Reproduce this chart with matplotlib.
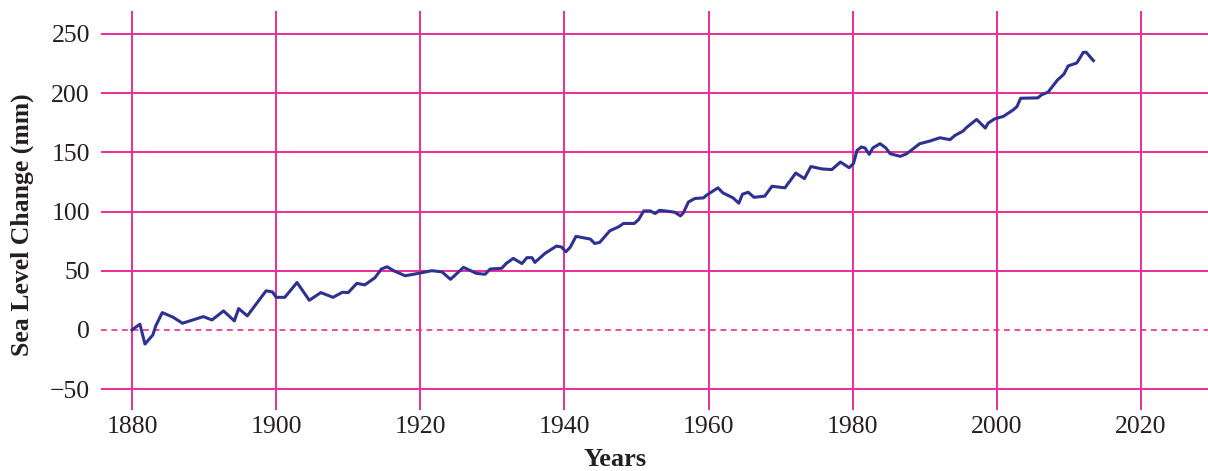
import matplotlib
matplotlib.use("Agg")
import matplotlib.pyplot as plt

years = [1880.0, 1881.1, 1881.8, 1882.9, 1883.3, 1884.2, 1885.7, 1887.0, 1889.9, 1891.1,
         1892.7, 1894.2, 1894.8, 1896.0, 1898.6, 1899.5, 1900.0, 1901.2, 1902.9, 1904.6,
         1906.2, 1907.9, 1909.2, 1910.0, 1911.2, 1912.3, 1913.7, 1914.6, 1915.4, 1916.3,
         1917.9, 1919.7, 1921.6, 1923.0, 1924.2, 1926.0, 1927.8, 1929.0, 1929.7, 1931.3,
         1931.9, 1932.9, 1934.1, 1934.8, 1935.5, 1935.9, 1937.3, 1938.9, 1939.6, 1940.2,
         1940.8, 1941.6, 1943.6, 1944.2, 1944.9, 1946.3, 1947.5, 1948.2, 1949.7, 1950.3,
         1951.0, 1951.9, 1952.6, 1953.2, 1954.0, 1955.3, 1956.1, 1956.5, 1957.2, 1958.1,
         1959.3, 1959.7, 1961.3, 1962.0, 1963.4, 1964.2, 1964.7, 1965.5, 1966.3, 1967.8,
         1968.8, 1970.6, 1972.1, 1973.3, 1974.2, 1975.7, 1977.1, 1978.3, 1979.5, 1980.1,
         1980.6, 1981.2, 1981.7, 1982.3, 1982.8, 1983.8, 1984.6, 1985.2, 1986.6, 1987.5,
         1989.3, 1990.7, 1992.1, 1993.5, 1994.2, 1995.3, 1995.8, 1997.2, 1998.4, 1998.8,
         1999.7, 2000.9, 2002.3, 2002.8, 2003.3, 2005.7, 2006.2, 2007.1, 2008.4, 2009.3,
         2009.9, 2011.1, 2012.0, 2012.4, 2013.4]
sea_level = [0.0, 4.8, -12.0, -4.2, 3.4, 14.6, 10.7, 5.6, 11.2, 8.4,
             16.0, 7.6, 18.0, 11.8, 33.0, 32.0, 27.5, 27.5, 40.0, 25.0,
             31.5, 27.5, 31.8, 31.5, 39.3, 38.0, 44.0, 51.4, 53.3, 50.0,
             45.7, 47.7, 50.0, 49.0, 42.7, 52.8, 47.7, 47.0, 51.4, 52.0,
             56.0, 60.4, 56.0, 61.0, 61.0, 57.0, 64.6, 70.8, 70.0, 66.0,
             69.7, 79.0, 76.7, 73.0, 73.9, 83.7, 87.0, 89.9, 89.9, 93.2,
             100.5, 100.5, 98.3, 101.0, 100.5, 99.4, 96.3, 98.8, 108.0, 111.0,
             111.5, 113.7, 120.0, 115.7, 111.5, 107.0, 114.6, 116.3, 112.0, 113.0,
             121.3, 120.0, 132.5, 127.8, 138.0, 136.0, 135.4, 141.8, 137.0, 140.4,
             151.6, 154.5, 153.7, 148.3, 153.7, 157.3, 153.7, 148.8, 146.6, 148.8,
             157.3, 159.5, 162.3, 160.7, 164.3, 167.9, 171.0, 177.8, 170.5, 174.7,
             178.3, 180.3, 186.0, 188.7, 195.7, 196.0, 198.6, 200.8, 211.0, 216.0,
             223.0, 225.5, 234.5, 234.5, 227.5]

x_ticks = [1880, 1900, 1920, 1940, 1960, 1980, 2000, 2020]
y_ticks = [-50, 0, 50, 100, 150, 200, 250]

grid_color = "#ec2c96"
line_color = "#2e3192"
text_color = "#231f20"

plt.rcParams["font.family"] = ["Liberation Serif", "DejaVu Serif"]

fig = plt.figure(figsize=(12.08, 4.71), dpi=100)
ax = fig.add_axes([101 / 1208, 1 - 410 / 471, 1 - 101 / 1208, 399 / 471])

# grid drawn by hand so the zero line can be dashed
for xt in x_ticks:
    ax.axvline(xt, color=grid_color, lw=1.4, zorder=1)
for yt in y_ticks:
    if yt == 0:
        ax.axhline(yt, color=grid_color, lw=1.2, ls=(0, (3.5, 2.8)), zorder=1)
    else:
        ax.axhline(yt, color=grid_color, lw=1.4, zorder=1)

ax.plot(years, sea_level, color=line_color, lw=2.2, zorder=3)

ax.set_xlim(1875.7, 2029.3)
ax.set_ylim(-67.7, 269.4)
ax.set_xticks(x_ticks)
ax.set_yticks(y_ticks)
ax.tick_params(length=0, labelsize=18.5, colors=text_color)
ax.tick_params(axis="y", pad=8)
ax.tick_params(axis="x", pad=4)
for s in ax.spines.values():
    s.set_visible(False)

fig.text(22 / 1208, 1 - 225 / 471, "Sea Level Change (mm)", rotation=90,
         ha="center", va="center", fontsize=18.5, fontweight="bold", color=text_color)
fig.text(615 / 1208, 1 - 466 / 471, "Years", ha="center", va="baseline",
         fontsize=19, fontweight="bold", color=text_color)

fig.savefig("out.png", dpi=100)
